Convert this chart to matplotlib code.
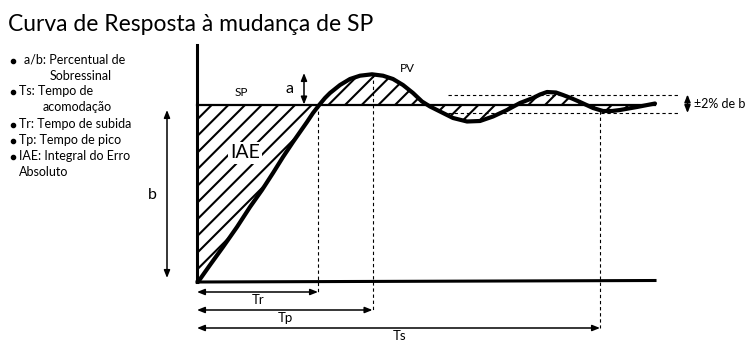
import matplotlib.pyplot as plt
import numpy as np

plt.rcParams['font.family'] = ['Lato', 'DejaVu Sans']
plt.rcParams['hatch.linewidth'] = 1.5

# diagram geometry, in picture units (x = time, y = level, y grows downward)
t_start = 197
t_end = 655
base_level = 282
sp_level = 104.5
band_hi = 94.5
band_lo = 113
band_t = [448, 680]

# PV response
pv_t = [198, 210, 223, 237, 250, 262, 273, 283, 293, 300, 307, 313, 320,
        325, 330, 340, 350, 360, 372, 383, 393, 403, 413, 422, 430, 440,
        453, 467, 480, 493, 507, 520, 533, 540, 547, 556, 563, 572, 580,
        593, 603, 612, 620, 637, 655]
pv_y = [282, 265, 247, 227, 207, 190, 173, 157, 142, 132, 122, 113, 104,
        98, 93, 85, 79, 75.7, 74.3, 75.7, 79, 85, 93, 101.5, 106.5, 111.5,
        118, 121.5, 121, 116.5, 110, 103, 98, 94.5, 92, 92.5, 95, 98.5, 102,
        108, 111, 111, 110, 107, 103.5]

# time markers
marks = ['Tr', 'Tp', 'Ts']
mark_t = [318, 372.5, 600]
mark_top = [105, 74, 111]
mark_row = [292, 310, 328]

bullets = [('a/b: Percentual de', 'Sobressinal'),
           ('Ts: Tempo de', 'acomodação'),
           ('Tr: Tempo de subida', None),
           ('Tp: Tempo de pico', None),
           ('IAE: Integral do Erro', 'Absoluto')]

fig = plt.figure(figsize=(7.5, 3.5), dpi=100)
ax = fig.add_axes([0, 0, 1, 1])
ax.set_xlim(0, 750)
ax.set_ylim(350, 0)
ax.axis('off')

t = np.array(pv_t, dtype=float)
y = np.array(pv_y, dtype=float)

# hatched error area
ax.fill_between(t, y, sp_level, facecolor='none', edgecolor='black',
                hatch='//', linewidth=0)

# axes and set point
ax.plot([t_start, t_start], [45, base_level], color='black', lw=2.2)
ax.plot([t_start, t_end], [base_level, base_level - 1.5], color='black', lw=2.2)
ax.plot([t_start, t_end], [sp_level, sp_level], color='black', lw=1.6)

# response curve
ax.plot(t, y, color='black', lw=3, solid_capstyle='round',
        solid_joinstyle='round')

# +/-2% band
for lvl in (band_hi, band_lo):
    ax.plot(band_t, [lvl, lvl], color='black', lw=0.8, dashes=(3, 2.5))

arrow = dict(arrowstyle='<|-|>,head_length=0.45,head_width=0.18',
             color='black', lw=1.1, shrinkA=0, shrinkB=0)

ax.annotate('', xy=(687.5, band_hi), xytext=(687.5, band_lo), arrowprops=arrow)
ax.text(694, sp_level, '±2% de b', fontsize=9, va='center', ha='left')

# time markers
for name, tm, top, row in zip(marks, mark_t, mark_top, mark_row):
    ax.plot([tm, tm], [top, row], color='black', lw=0.8, dashes=(3, 2.5))
    ax.annotate('', xy=(t_start, row), xytext=(tm, row), arrowprops=arrow)
    ax.text((t_start + tm) / 2 + 1, row + 8, name, fontsize=9.5,
            ha='center', va='center')

# a and b
ax.annotate('', xy=(304, 73), xytext=(304, sp_level), arrowprops=arrow)
ax.text(290, 89, 'a', fontsize=11.5, ha='center', va='center')
ax.annotate('', xy=(167, 110), xytext=(167, 278), arrowprops=arrow)
ax.text(152, 195, 'b', fontsize=11.5, ha='center', va='center')

ax.text(241, 93, 'SP', fontsize=8.5, ha='center', va='center')
ax.text(407, 68, 'PV', fontsize=8.5, ha='center', va='center')
ax.text(245, 153, 'IAE', fontsize=14, ha='center', va='center',
        bbox=dict(facecolor='white', edgecolor='none', pad=1.5))

# title and notes
ax.text(8, 31, 'Curva de Resposta à mudança de SP', fontsize=16.5,
        ha='left', va='baseline')

rows = [64, 95, 128, 144, 160]
for i, ((first, second), yb) in enumerate(zip(bullets, rows)):
    tx = 24 if i == 0 else 19
    ax.plot(12.5, yb - 3.5, 'o', color='black', ms=3)
    ax.text(tx, yb, first, fontsize=9, ha='left', va='baseline')
    if second:
        sx = {0: 50, 1: 43}.get(i, 19)
        ax.text(sx, yb + 16, second, fontsize=9, ha='left', va='baseline')

fig.savefig('out.png', dpi=100)
